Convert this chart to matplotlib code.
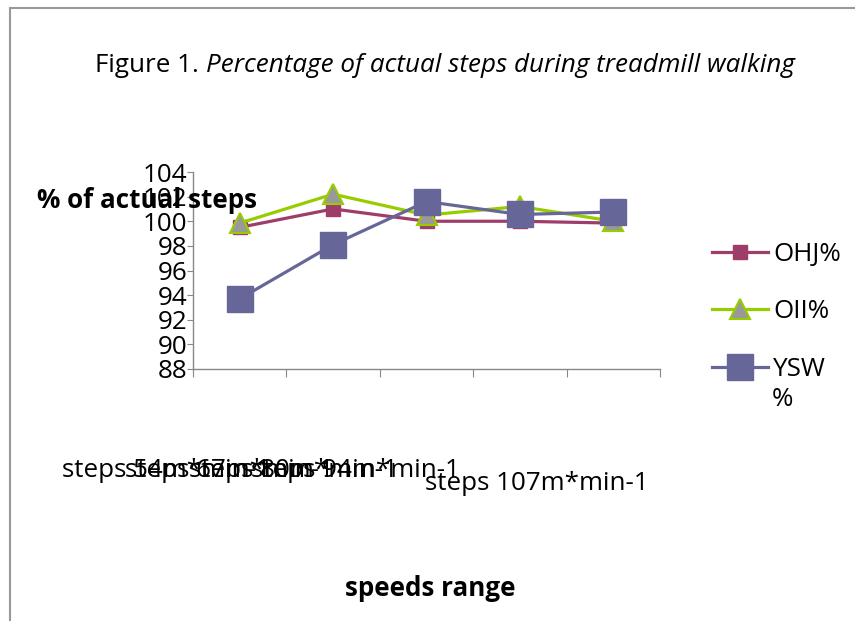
import numpy as np
import matplotlib.pyplot as plt
from matplotlib.lines import Line2D
from matplotlib.transforms import ScaledTranslation

# DADOS
categories = ['steps 54m*min-1', 'steps 67m*min-1', 'steps 80m*min-1',
              'steps 94m*min-1', 'steps 107m*min-1']
ohj = [99.5, 101.0, 100.0, 100.0, 99.85]
oii = [99.85, 102.2, 100.5, 101.2, 100.0]
ysw = [93.7, 98.1, 101.6, 100.55, 100.75]
series_names = ['OHJ%', 'OII%', 'YSW']
y_ticks = [88, 90, 92, 94, 96, 98, 100, 102, 104]

FONT = 'Open Sans'
FS = 18.7
plt.rcParams['font.family'] = [FONT, 'DejaVu Sans']

fig = plt.figure(figsize=(8.55, 6.21), dpi=100)
W, H = 855, 621
ax = fig.add_axes([193 / W, 1 - 369 / H, (660 - 193) / W, (369 - 172) / H])

x = np.arange(len(categories))
ax.plot(x, ohj, color='#9E3D6A', lw=2.3, marker='s', ms=10,
        mfc='#9E3D6A', mec='#9E3D6A', label=series_names[0], zorder=3)
ax.plot(x, oii, color='#99CC00', lw=2.3, marker='^', ms=14,
        mfc='#999999', mec='#99CC00', mew=1.5, label=series_names[1], zorder=4)
ax.plot(x, ysw, color='#666699', lw=2.3, marker='s', ms=19,
        mfc='#666699', mec='#666699', label=series_names[2], zorder=5)

ax.set_xlim(-0.5, len(categories) - 0.5)
ax.set_ylim(88, 104)
ax.set_yticks(y_ticks)
ax.tick_params(axis='y', labelsize=FS, length=4, color='#888888', pad=0)

# ticks nas divisoes, rotulos no centro
ax.set_xticks(np.arange(-0.5, len(categories), 1.0))
ax.set_xticklabels([])
ax.set_xticks(x, minor=True)
ax.set_xticklabels(categories, minor=True, fontsize=FS, ha='left')
ax.tick_params(axis='x', which='major', length=6, color='#888888')
ax.tick_params(axis='x', which='minor', length=0, pad=64)
# deslocamentos dos rotulos como no original (pixels)
shifts = [(-178, 0), (-208, 0), (-238, 0), (-269, 0), (-188, -13)]
for lab, (dx, dy) in zip(ax.get_xticklabels(minor=True), shifts):
    lab.set_transform(lab.get_transform() + ScaledTranslation(dx / 100, dy / 100, fig.dpi_scale_trans))

for s in ['top', 'right']:
    ax.spines[s].set_visible(False)
for s in ['left', 'bottom']:
    ax.spines[s].set_color('#888888')
    ax.spines[s].set_linewidth(1.0)

# titulo
t1 = fig.text(95 / W, 1 - 65 / H, 'Figure 1. ', fontsize=FS, va='center', ha='left')
ax.annotate('Percentage of actual steps during treadmill walking', xy=(1, 0),
            xycoords=t1, va='bottom', ha='left', fontsize=FS, style='italic')

fig.text(37 / W, 1 - 200 / H, '% of actual steps', fontsize=FS, fontweight='bold',
         va='center', ha='left')
fig.text(430 / W, 1 - 588 / H, 'speeds range', fontsize=FS, fontweight='bold',
         va='center', ha='center')

fig.legend(loc='upper left', bbox_to_anchor=(712 / W, 1 - 242 / H), frameon=False,
           fontsize=FS, handlelength=2.15, labelspacing=1.25, handletextpad=0.2,
           borderpad=0, borderaxespad=0)
fig.text(772 / W, 1 - 400 / H, '%', fontsize=FS, va='center', ha='left')

# moldura
fig.add_artist(Line2D([10 / W, 10 / W], [0, 1 - 8 / H], color='#999999', lw=1.5))
fig.add_artist(Line2D([10 / W, 1], [1 - 8 / H, 1 - 8 / H], color='#999999', lw=1.5))

fig.savefig('out.png', dpi=100)
